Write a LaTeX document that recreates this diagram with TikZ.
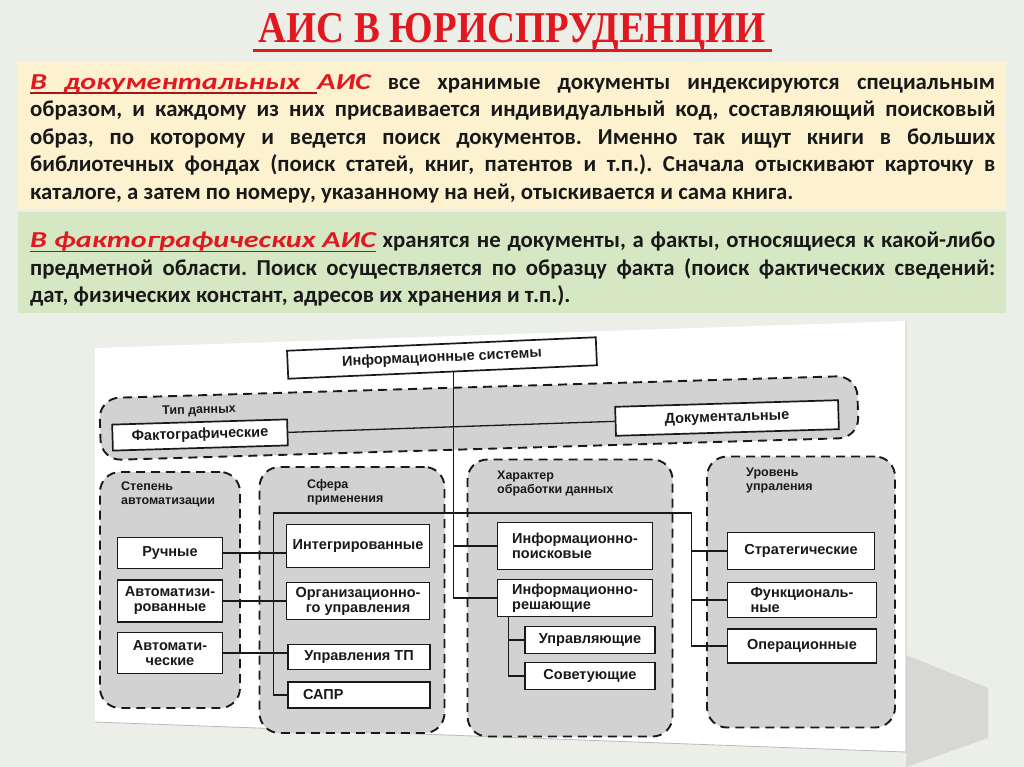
\documentclass[tikz,border=0pt]{standalone}
\usepackage{fontspec}
\usepackage{graphicx}
\usetikzlibrary{calc}

\setmainfont{Carlito}
\newfontfamily\titlefont{Liberation Serif}
\newfontfamily\scanfont{Liberation Sans}

\definecolor{bgpage}{RGB}{236,238,232}
\definecolor{titlered}{RGB}{226,24,32}
\definecolor{ulred}{RGB}{170,20,25}
\definecolor{cream}{RGB}{253,242,208}
\definecolor{sage}{RGB}{214,231,196}
\definecolor{stipple}{RGB}{210,210,210}
\definecolor{ink}{RGB}{25,25,25}

\newsavebox{\termbox}
\newcommand{\redword}[1]{\scalebox{1.32}[1]{\color{titlered}\itshape #1}}
\newcommand{\uword}[1]{\sbox{\termbox}{\redword{#1}}%
  \rlap{\color{ulred}\rule[-0.2em]{\wd\termbox}{1.5pt}}\usebox{\termbox}}
\newcommand{\ulgap}{{\color{ulred}\leaders\hrule height \dimexpr-0.2em+1.5pt\relax depth 0.2em
  \hskip\fontdimen2\font plus \fontdimen3\font minus \fontdimen4\font}}

\tikzset{
  isbox/.style={draw=ink, line width=1.7pt, fill=white, text=ink, align=center, inner sep=2pt,
    font=\scanfont\bfseries\fontsize{14.5}{15}\selectfont},
  grp/.style={draw=ink, line width=1.9pt, dash pattern=on 9pt off 6pt, rounded corners=20pt, fill=stipple},
  grplabel/.style={font=\scanfont\bfseries\fontsize{12.5}{14}\selectfont, text=ink, align=left,
    anchor=north west, inner sep=0pt},
  link/.style={draw=ink, line width=1.3pt},
  bodytext/.style={text width=965pt, align=justify, inner sep=0pt, text=ink,
    font=\frenchspacing\bfseries\fontsize{22.8}{27.5}\selectfont},
}

\begin{document}
\begin{tikzpicture}[x=1pt,y=-1pt]
  % page
  \fill[bgpage] (0,0) rectangle (1024,767);
  \useasboundingbox (0,0) rectangle (1024,767);

  % title
  \node[font=\titlefont\bfseries\fontsize{44}{44}\selectfont, text=titlered] (title) at (512,33)
    {\scalebox{0.88}[1]{АИС В ЮРИСПРУДЕНЦИИ}};
  \draw[titlered, line width=3pt] (253,51) -- (772,51);

  % text panels
  \fill[cream] (18,62) rectangle (1006,210);
  \fill[sage] (18,212) rectangle (1006,313);
  \node[bodytext, anchor=north west] (docpara) at (30,74)
    {\uword{В}\ulgap\uword{документальных}\ulgap\redword{АИС} все хранимые документы индексируются специальным\linebreak
     образом, и каждому из них присваивается индивидуальный код, составляющий поисковый\linebreak
     образ, по которому и ведется поиск документов. Именно так ищут книги в больших\linebreak
     библиотечных фондах (поиск статей, книг, патентов и т.п.). Сначала отыскивают карточку в\linebreak
     каталоге, а затем по номеру, указанному на ней, отыскивается и сама книга.};
  \node[bodytext, anchor=north west] (factpara) at (30,232)
    {\uword{В фактографических АИС} хранятся не документы, а факты, относящиеся к какой-либо\linebreak
     предметной области. Поиск осуществляется по образцу факта (поиск фактических сведений:\linebreak
     дат, физических констант, адресов их хранения и т.п.).};

  % scanned sheet
  \fill[gray!45, opacity=0.55] (906,655) -- (988,688) -- (988,738) -- (906,767) -- cycle;
  \fill[white] (95,348) -- (906,321) -- (906,752) -- (95,722) -- cycle;
  \draw[gray!55, line width=0.8pt] (95,722) -- (906,752) -- (906,321);

  % top level
  \node[grp, rotate=1.7, minimum width=758pt, minimum height=62pt] (gtype) at (479,418) {};
  \node[isbox, rotate=2.5, minimum width=309pt, minimum height=28pt] (infosys) at (442,358) {Информационные системы};
  \node[grplabel, rotate=1.7] (ltype) at (162,406) {Тип данных};
  \node[isbox, rotate=1.7, minimum width=175pt, minimum height=26pt] (fakto) at (200,435) {Фактографические};
  \node[isbox, rotate=1.7, minimum width=223pt, minimum height=29pt] (docum) at (727,418) {Документальные};

  % groups
  \node[grp, minimum width=140pt, minimum height=236pt] (gauto) at (170,590) {};
  \node[grp, minimum width=185pt, minimum height=266pt] (gsfera) at (352,600) {};
  \node[grp, minimum width=205pt, minimum height=277pt] (ghar) at (570,598) {};
  \node[grp, minimum width=188pt, minimum height=271pt] (gurov) at (801,592) {};
  \node[grplabel] (lauto) at (121,482) {Степень\\автоматизации};
  \node[grplabel] (lsfera) at (307,479) {Сфера\\применения};
  \node[grplabel] (lhar) at (497,471) {Характер\\обработки данных};
  \node[grplabel] (lurov) at (746,468) {Уровень\\упраления};

  % boxes
  \node[isbox, minimum width=105pt, minimum height=31pt] (ruch) at (170,553) {Ручные};
  \node[isbox, minimum width=105pt, minimum height=42pt] (avtzir) at (170,601) {Автоматизи-\\рованные};
  \node[isbox, minimum width=105pt, minimum height=41pt] (avtch) at (170,653) {Автомати-\\ческие};

  \node[isbox, minimum width=143pt, minimum height=43pt] (integ) at (358,546) {Интегрированные};
  \node[isbox, minimum width=143pt, minimum height=37pt] (orgup) at (358,601) {Организационно-\\го управления};
  \node[isbox, minimum width=142pt, minimum height=25pt] (uptp) at (359,657) {Управления ТП};
  \node[isbox, minimum width=142pt, minimum height=26pt, text width=112pt, align=left] (sapr) at (359,695) {САПР};

  \node[isbox, minimum width=155pt, minimum height=47pt, align=left] (poisk) at (575,546) {Информационно-\\поисковые};
  \node[isbox, minimum width=155pt, minimum height=37pt, align=left] (reshay) at (575,598) {Информационно-\\решающие};
  \node[isbox, minimum width=130pt, minimum height=27pt] (uprav) at (590,640) {Управляющие};
  \node[isbox, minimum width=130pt, minimum height=27pt] (sovet) at (590,676) {Советующие};

  \node[isbox, minimum width=147pt, minimum height=37pt] (strat) at (801,551) {Стратегические};
  \node[isbox, minimum width=149pt, minimum height=35pt, align=left] (funk) at (802,600) {Функциональ-\\ные};
  \node[isbox, minimum width=149pt, minimum height=34pt] (oper) at (802,646) {Операционные};

  % connectors
  \coordinate (bus) at (453,513);
  \draw[link] (fakto.east) -- (docum.west);
  \draw[link] ($(infosys.south west)!0.536!(infosys.south east)$) |- (reshay.west);
  \draw[link] (poisk.west) -- (poisk.west -| bus);
  \draw[link] (sapr.west) -- ++(-14,0) |- (bus);
  \draw[link] (ruch.east) -- (ruch.east -| integ.west);
  \draw[link] (avtzir.east) -- (avtzir.east -| orgup.west);
  \draw[link] (avtch.east) -- (avtch.east -| uptp.west);
  \draw[link] (bus) -| ($(oper.west)+(-35,0)$) -- (oper.west);
  \draw[link] (strat.west) -- ++(-35,0);
  \draw[link] (funk.west) -- ++(-35,0);
  \draw[link] ($(reshay.south west)+(12,0)$) |- (sovet.west);
  \draw[link] (uprav.west) -- ++(-15,0);
\end{tikzpicture}
\end{document}
